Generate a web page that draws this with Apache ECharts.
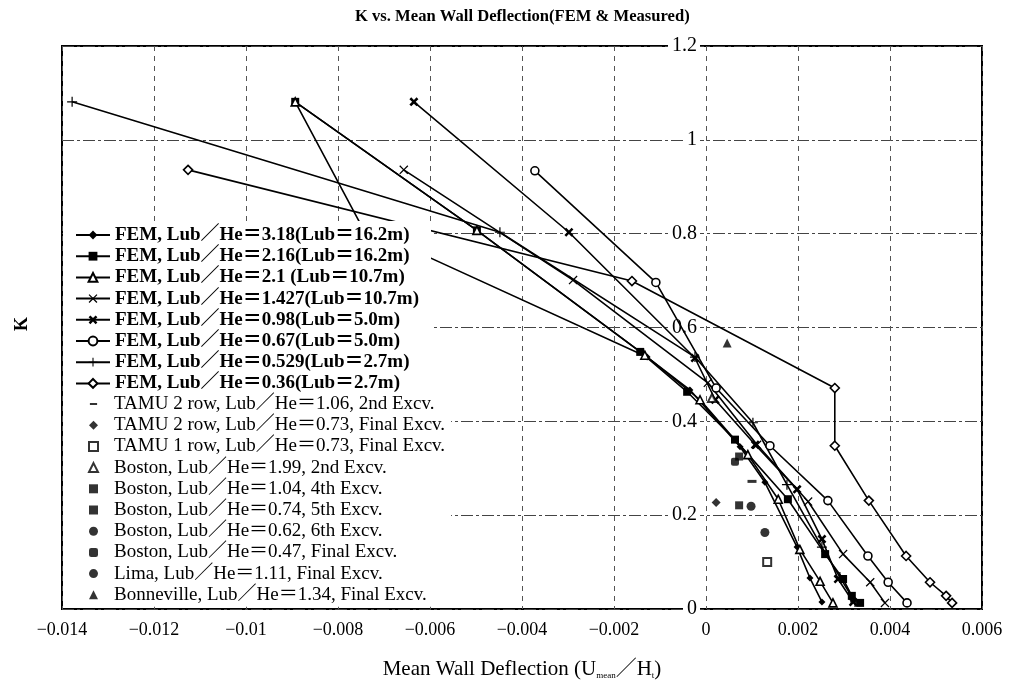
<!DOCTYPE html>
<html>
<head>
<meta charset="utf-8">
<script src="https://cdn.jsdelivr.net/npm/echarts/dist/echarts.min.js"></script>
<style>
html,body{margin:0;padding:0;background:#fff;}
#chart{width:1013px;height:685px;}
</style>
</head>
<body>
<div id="chart"></div>
<script>
// ---------- data ----------
const xMin = -0.014, xMax = 0.006, xStep = 0.002;
const yMin = 0, yMax = 1.2, yStep = 0.2;

const femNames = [
  'FEM, Lub／He＝3.18(Lub＝16.2m)',
  'FEM, Lub／He＝2.16(Lub＝16.2m)',
  'FEM, Lub／He＝2.1 (Lub＝10.7m)',
  'FEM, Lub／He＝1.427(Lub＝10.7m)',
  'FEM, Lub／He＝0.98(Lub＝5.0m)',
  'FEM, Lub／He＝0.67(Lub＝5.0m)',
  'FEM, Lub／He＝0.529(Lub＝2.7m)',
  'FEM, Lub／He＝0.36(Lub＝2.7m)'
];
const fem318 = [[-0.00893,1.081],[-0.00748,0.815],[-0.00128,0.537],[-0.00035,0.467],[0.00074,0.346],[0.00128,0.270],[0.00198,0.132],[0.00226,0.066],[0.00252,0.015]];
const fem216 = [[-0.00893,1.081],[-0.00498,0.807],[-0.00143,0.548],[-0.00041,0.463],[0.00063,0.361],[0.00178,0.234],[0.00259,0.117],[0.00298,0.064],[0.00317,0.028],[0.00335,0.013]];
const fem21  = [[-0.00893,1.081],[-0.00498,0.807],[-0.00133,0.541],[-0.00013,0.446],[0.00091,0.329],[0.00157,0.234],[0.00204,0.127],[0.00248,0.059],[0.00276,0.013]];
const fem1427 = [[-0.00657,0.936],[-0.00289,0.701],[0.00004,0.482],[0.00111,0.350],[0.00222,0.229],[0.00298,0.117],[0.00357,0.057],[0.00389,0.013]];
const fem098 = [[-0.00635,1.081],[-0.00298,0.803],[-0.00024,0.535],[0.00020,0.446],[0.00107,0.350],[0.00198,0.255],[0.00252,0.149],[0.00287,0.064],[0.00320,0.015]];
const fem067 = [[-0.00372,0.934],[-0.00109,0.696],[0.00022,0.471],[0.00139,0.348],[0.00265,0.231],[0.00352,0.113],[0.00396,0.057],[0.00437,0.013]];
const fem0529 = [[-0.01378,1.081],[-0.00448,0.803],[-0.00024,0.537],[0.00102,0.397],[0.00176,0.265],[0.00252,0.132],[0.00291,0.068],[0.00324,0.015]];
const fem036 = [[-0.01126,0.936],[-0.00161,0.699],[0.00280,0.471],[0.00280,0.348],[0.00354,0.231],[0.00435,0.113],[0.00487,0.057],[0.00522,0.028],[0.00535,0.013]];

const measNames = [
  'TAMU 2 row, Lub／He＝1.06, 2nd Excv.',
  'TAMU 2 row, Lub／He＝0.73, Final Excv.',
  'TAMU 1 row, Lub／He＝0.73, Final Excv.',
  'Boston, Lub／He＝1.99, 2nd Excv.',
  'Boston, Lub／He＝1.04, 4th Excv.',
  'Boston, Lub／He＝0.74, 5th Excv.',
  'Boston, Lub／He＝0.62, 6th Excv.',
  'Boston, Lub／He＝0.47, Final Excv.',
  'Lima, Lub／He＝1.11, Final Excv.',
  'Bonneville, Lub／He＝1.34, Final Excv.'
];
const tamu2r106 = [[0.00100,0.272]];
const tamu2r073 = [[0.00022,0.227]];
const tamu1r073 = [[0.00133,0.100]];
const boston199 = [[0.00013,0.450]];
const boston104 = [[0.00072,0.221]];
const boston074 = [[0.00072,0.325]];
const boston062 = [[0.00098,0.219]];
const boston047 = [[0.00063,0.314]];
const lima111 = [[0.00128,0.163]];
const bonneville134 = [[0.00046,0.567]];

// ---------- styling ----------
const SERIF = '"Liberation Serif","DejaVu Serif","Noto Sans CJK JP",serif';
const P_X = 'path://M0,1L1,0L5,4L9,0L10,1L6,5L10,9L9,10L5,6L1,10L0,9L4,5Z';
const P_XB = 'path://M0,2L2,0L5,3L8,0L10,2L7,5L10,8L8,10L5,7L2,10L0,8L3,5Z';
const P_PLUS = 'path://M4.4,0H5.6V4.4H10V5.6H5.6V10H4.4V5.6H0V4.4H4.4Z';
const P_DASH = 'path://M0,0L0.05,0L0,0.05Z M1,4H9V6.2H1Z M9.95,10L10,10L10,9.95Z';

function femSeries(name, data, symbol, size, hollow) {
  return {
    name: name, type: 'line', data: data, symbol: symbol, symbolSize: size,
    showSymbol: true,
    lineStyle: {color: '#000', width: 1.6},
    itemStyle: hollow ? {color: '#fff', borderColor: '#000', borderWidth: 1.6} : {color: '#000'},
    z: 3
  };
}
function measSeries(name, data, symbol, size, hollow) {
  return {
    name: name, type: 'scatter', data: data, symbol: symbol, symbolSize: size,
    itemStyle: hollow ? {color: '#fff', borderColor: '#000', borderWidth: 2} : {color: '#000'},
    z: 3
  };
}

const series = [
  femSeries(femNames[0], fem318, 'diamond', 7, false),
  femSeries(femNames[1], fem216, 'rect', 8, false),
  femSeries(femNames[2], fem21, 'triangle', 8, true),
  femSeries(femNames[3], fem1427, P_X, 9, false),
  femSeries(femNames[4], fem098, P_XB, 9, false),
  femSeries(femNames[5], fem067, 'circle', 8, true),
  femSeries(femNames[6], fem0529, P_PLUS, 10, false),
  femSeries(femNames[7], fem036, 'diamond', 9, true),
  measSeries(measNames[0], tamu2r106, 'rect', [9,3], false),
  measSeries(measNames[1], tamu2r073, 'diamond', 9, false),
  measSeries(measNames[2], tamu1r073, 'rect', 8, true),
  measSeries(measNames[3], boston199, 'triangle', 8, true),
  measSeries(measNames[4], boston104, 'rect', 8, false),
  measSeries(measNames[5], boston074, 'rect', 8, false),
  measSeries(measNames[6], boston062, 'circle', 9, false),
  measSeries(measNames[7], boston047, 'roundRect', 8, false),
  measSeries(measNames[8], lima111, 'circle', 9, false),
  measSeries(measNames[9], bonneville134, 'triangle', 9, false)
];

const LEG_FS = 19, LEG_LH = 20, LEG_GAP = 1.2;
const legendTop = 221;
const legendStep = LEG_LH + LEG_GAP;

const GRID = {left: 62, right: 31, top: 46, bottom: 74};
const plotW = 1013 - GRID.left - GRID.right;
// the y axis (with its labels) sits where x = 0
const yAxisOffset = -plotW * (0 - xMin) / (xMax - xMin);

const chart = echarts.init(document.getElementById('chart'), null, {renderer: 'canvas'});
chart.setOption({
  animation: false,
  backgroundColor: '#fff',
  title: {
    text: 'K vs. Mean Wall Deflection(FEM & Measured)',
    left: 350, top: 3,
    textStyle: {fontFamily: SERIF, fontSize: 16.6, fontWeight: 'bold', color: '#000'}
  },
  grid: Object.assign({show: true, borderColor: '#000', borderWidth: 2, backgroundColor: 'transparent'}, GRID),
  xAxis: {
    type: 'value', min: xMin, max: xMax, interval: xStep,
    axisLine: {show: false, onZero: false},
    axisTick: {show: false},
    axisLabel: {
      fontFamily: SERIF, fontSize: 18, color: '#000', margin: 12,
      formatter: function (v) { return (Math.abs(v) < 1e-12 ? '0' : String(+v.toFixed(3))).replace('-', '−'); }
    },
    splitLine: {show: true, lineStyle: {color: '#555', width: 1, type: [5, 5]}},
    name: 'Mean Wall Deflection (U{sub|mean}／H{sub|t})',
    nameLocation: 'middle', nameGap: 50,
    nameTextStyle: {
      fontFamily: SERIF, fontSize: 21, color: '#000',
      rich: {sub: {fontFamily: SERIF, fontSize: 9, color: '#000', verticalAlign: 'bottom', padding: [9, 0, 0, 0]}}
    }
  },
  yAxis: {
    type: 'value', min: yMin, max: yMax, interval: yStep,
    position: 'left', offset: yAxisOffset,
    axisLine: {show: false, onZero: false},
    axisTick: {show: false},
    axisLabel: {
      fontFamily: SERIF, fontSize: 20, color: '#000', margin: 6,
      backgroundColor: '#fff', padding: [0, 3, 0, 4]
    },
    splitLine: {show: true, lineStyle: {color: '#444', width: 1, type: [12, 3, 3, 3]}}
  },
  legend: [{
    orient: 'vertical', left: 63, top: legendTop,
    padding: [4, 12, 0, 12],
    backgroundColor: '#fff',
    itemWidth: 34, itemHeight: 11, itemGap: LEG_GAP,
    data: femNames,
    formatter: function (name) { return '{b|' + name + '}'; },
    textStyle: {
      color: '#000', fontFamily: SERIF, fontSize: LEG_FS, lineHeight: LEG_LH,
      rich: {b: {fontFamily: SERIF, fontSize: LEG_FS, fontWeight: 'bold', color: '#000', lineHeight: LEG_LH}}
    },
    z: 5
  }, {
    orient: 'vertical', left: 63, top: legendTop + 4 + 8 * legendStep - LEG_GAP / 2,
    padding: [0, 6, 2, 25],
    backgroundColor: '#fff',
    itemWidth: 9, itemHeight: 9, itemGap: LEG_GAP,
    data: measNames.map(function (n, i) { return i === 0 ? {name: n, icon: P_DASH} : n; }),
    formatter: function (name) { return '{n|' + name + '}'; },
    textStyle: {
      color: '#000', fontFamily: SERIF, fontSize: LEG_FS, lineHeight: LEG_LH,
      rich: {n: {fontFamily: SERIF, fontSize: LEG_FS, color: '#000', lineHeight: LEG_LH, padding: [0, 0, 0, 11]}}
    },
    z: 5
  }],
  graphic: [{
    type: 'text', left: 13, top: 317, rotation: Math.PI / 2,
    style: {text: 'K', font: 'bold 18px ' + SERIF, fill: '#000'}
  }],
  series: series
});
</script>
</body>
</html>
